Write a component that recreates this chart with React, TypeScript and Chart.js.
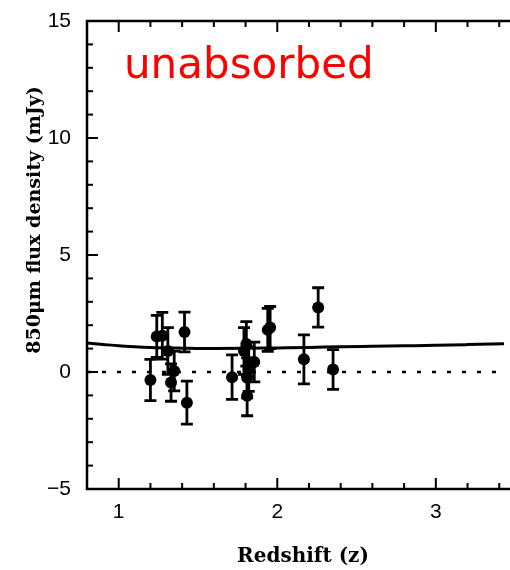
import React, { useEffect, useRef } from "react";
import { Chart, registerables } from "chart.js";

Chart.register(...registerables);

// ---- data ----
const redshift = [1.2, 1.24, 1.275, 1.31, 1.33, 1.35, 1.415, 1.43, 1.715, 1.79, 1.805, 1.81, 1.81, 1.82, 1.855, 1.94, 1.955, 2.168, 2.258, 2.352];
const flux = [-0.34, 1.52, 1.55, 0.9, -0.45, 0.04, 1.71, -1.31, -0.22, 0.9, 1.2, -0.25, -1.02, 0.12, 0.43, 1.8, 1.9, 0.54, 2.76, 0.11];
const fluxErr = [0.88, 0.9, 1.0, 1.0, 0.8, 0.85, 0.85, 0.92, 0.95, 1.0, 0.95, 0.85, 0.85, 0.95, 0.85, 0.92, 0.9, 1.05, 0.84, 0.85];

const modelZ = [0.8, 0.9, 1.0, 1.1, 1.2, 1.4, 1.6, 1.8, 2.0, 2.2, 2.4, 2.6, 2.8, 3.0, 3.2, 3.43];
const modelFlux = [1.24, 1.18, 1.12, 1.08, 1.05, 1.02, 1.0, 1.01, 1.03, 1.05, 1.08, 1.1, 1.12, 1.14, 1.17, 1.21];

const zeroZ = [0.8, 3.43];
const zeroFlux = [0, 0];

const xTickValues = [1, 2, 3];
const yTickValues = [-5, 0, 5, 10, 15];
const xMinorTicks = [0.8, 1.0, 1.2, 1.4, 1.6, 1.8, 2.0, 2.2, 2.4, 2.6, 2.8, 3.0, 3.2, 3.4];
const yMinorTicks = [-5, -4, -3, -2, -1, 0, 1, 2, 3, 4, 5, 6, 7, 8, 9, 10, 11, 12, 13, 14, 15];

const panelLabel = "unabsorbed";
const xTitle = "Redshift (z)";
const yTitle = "850\u03bcm flux density (mJy)";

const X_MIN = 0.8;
const X_MAX = 3.43;
const Y_MIN = -5;
const Y_MAX = 15;

const decorPlugin = {
  id: "decor",
  afterDatasetsDraw(chart: any) {
    const { ctx, scales } = chart;
    const x = scales.x;
    const y = scales.y;
    ctx.save();
    ctx.strokeStyle = "#000";
    ctx.lineWidth = 2.8;
    for (let i = 0; i < redshift.length; i++) {
      const px = x.getPixelForValue(redshift[i]);
      const yTop = y.getPixelForValue(flux[i] + fluxErr[i]);
      const yBot = y.getPixelForValue(flux[i] - fluxErr[i]);
      ctx.beginPath();
      ctx.moveTo(px, yTop);
      ctx.lineTo(px, yBot);
      ctx.moveTo(px - 6, yTop);
      ctx.lineTo(px + 6, yTop);
      ctx.moveTo(px - 6, yBot);
      ctx.lineTo(px + 6, yBot);
      ctx.stroke();
    }
    ctx.restore();
  },
  afterDraw(chart: any) {
    const { ctx, chartArea, scales } = chart;
    const { left, right, top, bottom } = chartArea;
    const x = scales.x;
    const y = scales.y;
    ctx.save();
    ctx.strokeStyle = "#000";
    ctx.lineWidth = 2.5;
    ctx.lineCap = "butt";
    // frame (right side is beyond the picture)
    ctx.beginPath();
    ctx.moveTo(right + 10, top);
    ctx.lineTo(left, top);
    ctx.lineTo(left, bottom);
    ctx.lineTo(right + 10, bottom);
    ctx.stroke();

    ctx.lineWidth = 2;
    // x ticks (bottom + top, inward)
    xMinorTicks.forEach((v) => {
      const px = x.getPixelForValue(v);
      const major = xTickValues.some((t) => Math.abs(t - v) < 1e-6);
      const len = major ? 11 : 6;
      ctx.beginPath();
      ctx.moveTo(px, bottom);
      ctx.lineTo(px, bottom - len);
      ctx.moveTo(px, top);
      ctx.lineTo(px, top + len);
      ctx.stroke();
    });
    // y ticks (left, inward)
    yMinorTicks.forEach((v) => {
      const py = y.getPixelForValue(v);
      const major = yTickValues.some((t) => Math.abs(t - v) < 1e-6);
      const len = major ? 11 : 6;
      ctx.beginPath();
      ctx.moveTo(left, py);
      ctx.lineTo(left + len, py);
      ctx.stroke();
    });

    // titles
    ctx.fillStyle = "#000";
    ctx.font = "bold 20px 'DejaVu Serif', 'Liberation Serif', serif";
    ctx.textAlign = "center";
    ctx.textBaseline = "alphabetic";
    ctx.fillText(xTitle, 303, 562);

    ctx.save();
    ctx.translate(40, 220);
    ctx.rotate(-Math.PI / 2);
    ctx.font = "bold 19px 'DejaVu Serif', 'Liberation Serif', serif";
    ctx.fillText(yTitle, 0, 0);
    ctx.restore();

    // panel label
    ctx.fillStyle = "#ff0000";
    ctx.font = "42px 'DejaVu Sans'";
    ctx.textAlign = "left";
    ctx.fillText(panelLabel, 124, 78);
    ctx.restore();
  },
};

export default function App() {
  const ref = useRef<HTMLCanvasElement | null>(null);

  useEffect(() => {
    document.body.style.margin = "0";
    if (!ref.current) return;
    const chart = new Chart(ref.current, {
      type: "scatter",
      data: {
        datasets: [
          {
            type: "line",
            label: "zero",
            data: zeroZ.map((z, i) => ({ x: z, y: zeroFlux[i] })),
            borderColor: "#000",
            borderWidth: 2.5,
            borderDash: [4, 11],
            pointRadius: 0,
            fill: false,
          },
          {
            type: "line",
            label: "model",
            data: modelZ.map((z, i) => ({ x: z, y: modelFlux[i] })),
            borderColor: "#000",
            borderWidth: 3,
            pointRadius: 0,
            cubicInterpolationMode: "monotone",
            fill: false,
          },
          {
            type: "scatter",
            label: "sources",
            data: redshift.map((z, i) => ({ x: z, y: flux[i] })),
            backgroundColor: "#000",
            borderColor: "#000",
            pointRadius: 6,
            pointBorderWidth: 0,
          },
        ],
      },
      options: {
        responsive: false,
        animation: false,
        layout: { padding: { left: 0, right: 0, top: 21, bottom: 0 } },
        plugins: {
          legend: { display: false },
          tooltip: { enabled: false },
          title: { display: false },
        },
        scales: {
          x: {
            type: "linear",
            min: X_MIN,
            max: X_MAX,
            afterBuildTicks: (scale: any) => {
              scale.ticks = xTickValues.map((v) => ({ value: v }));
            },
            afterFit: (scale: any) => {
              scale.height = 81;
              scale.paddingLeft = 0;
              scale.paddingRight = 0;
            },
            grid: { display: false, drawTicks: false },
            border: { display: false },
            ticks: {
              padding: 11,
              color: "#000",
              font: { family: "'Liberation Sans'", size: 21 },
              maxRotation: 0,
              autoSkip: false,
              callback: (v: any) => String(v),
            },
          },
          y: {
            type: "linear",
            min: Y_MIN,
            max: Y_MAX,
            afterBuildTicks: (scale: any) => {
              scale.ticks = yTickValues.map((v) => ({ value: v }));
            },
            afterFit: (scale: any) => {
              scale.width = 87;
              scale.paddingTop = 0;
              scale.paddingBottom = 0;
            },
            grid: { display: false, drawTicks: false },
            border: { display: false },
            ticks: {
              padding: 16,
              color: "#000",
              font: { family: "'Liberation Sans'", size: 21 },
              autoSkip: false,
              callback: (v: any) => (v < 0 ? "\u2212" + Math.abs(v) : String(v)),
            },
          },
        },
      },
      plugins: [decorPlugin],
    } as any);
    return () => chart.destroy();
  }, []);

  return (
    <div style={{ position: "absolute", left: 0, top: 0, width: 510, height: 570, background: "#fff" }}>
      <canvas ref={ref} width={510} height={570} style={{ display: "block", width: 510, height: 570 }} />
    </div>
  );
}
